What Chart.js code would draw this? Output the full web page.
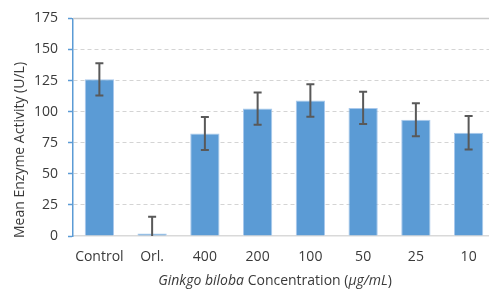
<!DOCTYPE html>
<html>
<head>
<meta charset="utf-8">
<script src="https://cdn.jsdelivr.net/npm/chart.js@4"></script>
<style>
  html, body { margin: 0; padding: 0; background: #fff; overflow: hidden; }
  #wrap { width: 497px; height: 290px; }
</style>
</head>
<body>
<div id="wrap"><canvas id="myBarChart" width="497" height="290"></canvas></div>
<script>
const categories = ['Control', 'Orl.', '400', '200', '100', '50', '25', '10'];
const meanValues = [126, 2, 82.5, 102.5, 109, 103, 93.5, 83];
const errValues = [13, 13.5, 13.3, 13, 13, 13, 13.3, 13.5];
const yTicks = [0, 25, 50, 75, 100, 125, 150, 175];

const textColor = '#3a3a3a';
const fontFam = '"Open Sans", "Liberation Sans", sans-serif';

// error bars + axis titles (titles have mixed italic, so drawn by hand)
const extras = {
    id: 'extras',
    afterDatasetsDraw(chart) {
        const c = chart.ctx;
        const x = chart.scales.x, y = chart.scales.y;
        c.save();
        c.strokeStyle = '#595959';
        c.lineWidth = 2;
        meanValues.forEach((v, i) => {
            const px = x.getPixelForValue(i);
            const top = y.getPixelForValue(v + errValues[i]);
            const lowVal = v - errValues[i];
            const bot = y.getPixelForValue(Math.max(0, lowVal));
            c.beginPath();
            c.moveTo(px, top); c.lineTo(px, bot);
            c.moveTo(px - 4, top); c.lineTo(px + 4, top);
            if (lowVal > 0) { c.moveTo(px - 4, bot); c.lineTo(px + 4, bot); }
            c.stroke();
        });
        // top border line at 175
        c.strokeStyle = '#c8c8c8';
        c.lineWidth = 1.5;
        const yt = y.getPixelForValue(175);
        c.beginPath(); c.moveTo(chart.chartArea.left, yt); c.lineTo(chart.chartArea.right, yt); c.stroke();
        c.restore();
    },
    afterDraw(chart) {
        const c = chart.ctx;
        c.save();
        c.fillStyle = textColor;
        c.textBaseline = 'middle';
        // x title
        const parts = [
            ['italic 14px ' + fontFam, 'Ginkgo biloba'],
            ['14px ' + fontFam, ' Concentration ('],
            ['italic 14px ' + fontFam, 'μg/mL'],
            ['14px ' + fontFam, ')']
        ];
        let total = 0;
        parts.forEach(p => { c.font = p[0]; total += c.measureText(p[1]).width; });
        let cx = 275 - total / 2;
        c.textAlign = 'left';
        parts.forEach(p => { c.font = p[0]; c.fillText(p[1], cx, 281); cx += c.measureText(p[1]).width; });
        // y title
        c.translate(20, 150);
        c.rotate(-Math.PI / 2);
        c.textAlign = 'center';
        c.font = '14px ' + fontFam;
        c.fillText('Mean Enzyme Activity (U/L)', 0, 0);
        c.restore();
    }
};

const data1 = {
    labels: categories,
    datasets: [
        {
            label: 'Mean Enzyme Activity',
            data: meanValues,
            backgroundColor: '#5B9BD5',
            borderColor: '#a9c9ec',
            borderWidth: 1,
            categoryPercentage: 1,
            barPercentage: 0.555,
        },
    ],
};

const config = {
    type: 'bar',
    data: data1,
    plugins: [extras],
    options: {
        responsive: false,
        animation: false,
        layout: { padding: { top: 17, right: 2, left: 0, bottom: 0 } },
        plugins: {
            legend: { display: false },
            tooltip: { enabled: false },
        },
        scales: {
            x: {
                grid: { display: false },
                border: { display: true, color: '#d9d9d9', width: 1.5 },
                ticks: {
                    color: textColor, font: { size: 14, family: fontFam }, padding: 5,
                    maxRotation: 0, minRotation: 0, autoSkip: false,
                },
                afterFit: s => { s.height = 54; },
            },
            y: {
                min: 0,
                max: 175,
                afterBuildTicks: s => { s.ticks = yTicks.map(v => ({ value: v })); },
                grid: {
                    color: ctx => (ctx.tick && (ctx.tick.value === 0 || ctx.tick.value === 175)) ? 'rgba(0,0,0,0)' : '#d4d4d4',
                    lineWidth: 1,
                    tickLength: 5,
                    tickColor: '#5B9BD5',
                    tickWidth: 1.5,
                    tickBorderDash: [],
                },
                border: { display: true, color: '#5B9BD5', width: 1.5, dash: [4, 3] },
                ticks: { color: textColor, font: { size: 14, family: fontFam }, padding: 10 },
                afterFit: s => { s.width = 73; },
            },
        },
    },
};

var ctx = document.getElementById('myBarChart').getContext('2d');
var myBarChart = new Chart(ctx, config);
</script>
</body>
</html>
